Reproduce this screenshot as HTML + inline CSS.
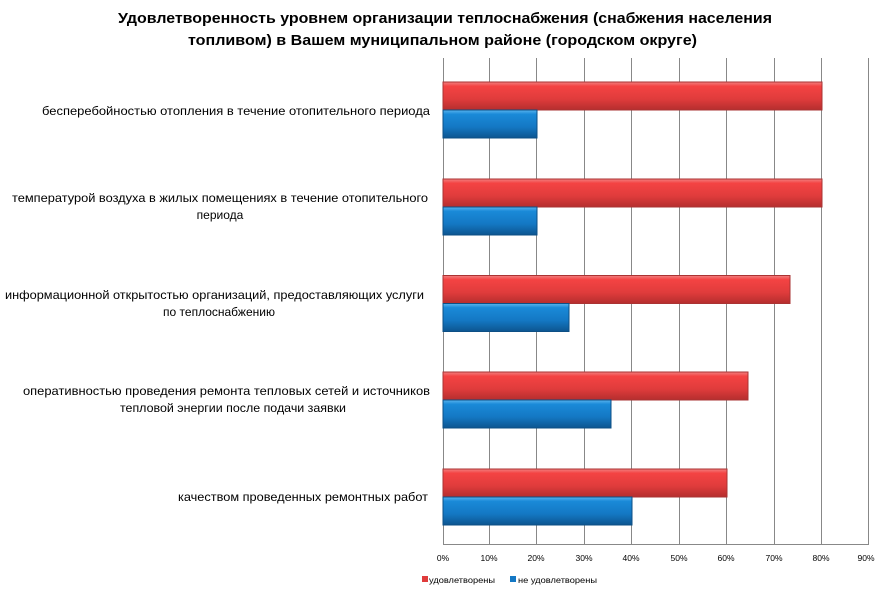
<!DOCTYPE html>
<html><head><meta charset="utf-8"><style>
body{margin:0;background:#fff;}
svg text{font-family:"Liberation Sans","DejaVu Sans",sans-serif;}
</style></head><body>
<svg width="885" height="590" xmlns="http://www.w3.org/2000/svg">
<defs>
<linearGradient id="r" x1="0" y1="0" x2="0" y2="1">
<stop offset="0" stop-color="#f08080"/><stop offset="0.15" stop-color="#f44343"/><stop offset="0.6" stop-color="#e03c3c"/><stop offset="1" stop-color="#b52e2e"/></linearGradient>
<linearGradient id="b" x1="0" y1="0" x2="0" y2="1">
<stop offset="0" stop-color="#5ab4ee"/><stop offset="0.15" stop-color="#1a8ad8"/><stop offset="0.6" stop-color="#1478c4"/><stop offset="1" stop-color="#0d5590"/></linearGradient>
</defs>
<text x="118" y="23" font-size="15" font-weight="bold" textLength="654" lengthAdjust="spacingAndGlyphs">Удовлетворенность уровнем организации теплоснабжения (снабжения населения</text>
<text x="188" y="45" font-size="15" font-weight="bold" textLength="509" lengthAdjust="spacingAndGlyphs">топливом) в Вашем муниципальном районе (городском округе)</text>
<g stroke="#888" stroke-width="1">
<line x1="443.5" y1="58" x2="443.5" y2="544"/>
<line x1="489.5" y1="58" x2="489.5" y2="544"/>
<line x1="536.5" y1="58" x2="536.5" y2="544"/>
<line x1="584.5" y1="58" x2="584.5" y2="544"/>
<line x1="631.5" y1="58" x2="631.5" y2="544"/>
<line x1="679.5" y1="58" x2="679.5" y2="544"/>
<line x1="726.5" y1="58" x2="726.5" y2="544"/>
<line x1="774.5" y1="58" x2="774.5" y2="544"/>
<line x1="821.5" y1="58" x2="821.5" y2="544"/>
<line x1="868.5" y1="58" x2="868.5" y2="544"/>
<line x1="443" y1="544.5" x2="869" y2="544.5"/>
</g>
<g stroke-width="1">
<rect x="443" y="82" width="379" height="28" fill="url(#r)" stroke="#a33"/>
<rect x="443" y="110" width="94" height="28" fill="url(#b)" stroke="#0d4f85"/>
<rect x="443" y="179" width="379" height="28" fill="url(#r)" stroke="#a33"/>
<rect x="443" y="207" width="94" height="28" fill="url(#b)" stroke="#0d4f85"/>
<rect x="443" y="275.5" width="347" height="28" fill="url(#r)" stroke="#a33"/>
<rect x="443" y="303.5" width="126" height="28" fill="url(#b)" stroke="#0d4f85"/>
<rect x="443" y="372" width="305" height="28" fill="url(#r)" stroke="#a33"/>
<rect x="443" y="400" width="168" height="28" fill="url(#b)" stroke="#0d4f85"/>
<rect x="443" y="469" width="284" height="28" fill="url(#r)" stroke="#a33"/>
<rect x="443" y="497" width="189" height="28" fill="url(#b)" stroke="#0d4f85"/>
</g>
<g font-size="12" fill="#000">
<text x="42" y="115" textLength="388" lengthAdjust="spacingAndGlyphs">бесперебойностью  отопления  в течение отопительного  периода</text>
<text x="12" y="202" textLength="416" lengthAdjust="spacingAndGlyphs">температурой  воздуха в жилых помещениях в течение отопительного</text>
<text x="220" y="219" text-anchor="middle">периода</text>
<text x="5" y="299" textLength="419" lengthAdjust="spacingAndGlyphs">информационной открытостью организаций, предоставляющих услуги</text>
<text x="219" y="316" text-anchor="middle">по теплоснабжению</text>
<text x="23" y="395" textLength="407" lengthAdjust="spacingAndGlyphs">оперативностью проведения ремонта  тепловых сетей и источников</text>
<text x="120" y="412" textLength="226" lengthAdjust="spacingAndGlyphs">тепловой энергии после подачи заявки</text>
<text x="178" y="501" textLength="250" lengthAdjust="spacingAndGlyphs">качеством проведенных ремонтных  работ</text>
</g>
<g font-size="8.5" text-anchor="middle">
<text x="443" y="561">0%</text><text x="489" y="561">10%</text><text x="536" y="561">20%</text><text x="584" y="561">30%</text><text x="631" y="561">40%</text><text x="679" y="561">50%</text><text x="726" y="561">60%</text><text x="774" y="561">70%</text><text x="821" y="561">80%</text><text x="866" y="561">90%</text>
</g>
<rect x="422" y="576" width="6" height="6" fill="#e03c3c"/>
<text x="429" y="583" font-size="8.5" textLength="66" lengthAdjust="spacingAndGlyphs">удовлетворены</text>
<rect x="510" y="576" width="6" height="6" fill="#1478c4"/>
<text x="518" y="583" font-size="8.5" textLength="79" lengthAdjust="spacingAndGlyphs">не удовлетворены</text>
</svg>
</body></html>
